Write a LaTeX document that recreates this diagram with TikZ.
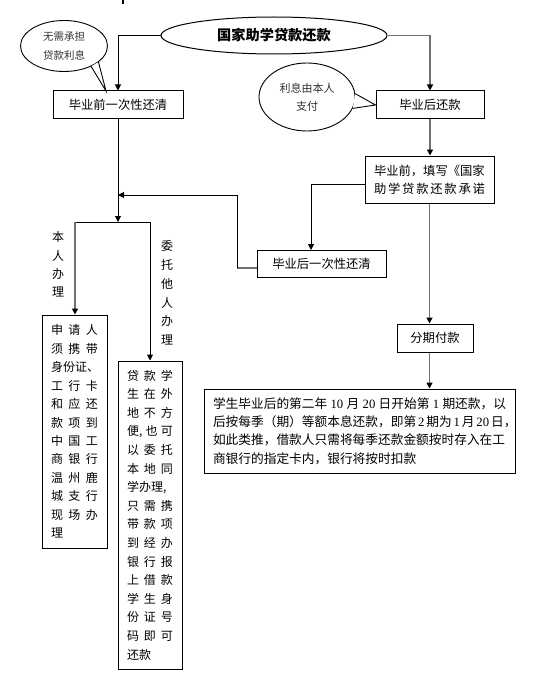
\documentclass[tikz,border=0pt]{standalone}
\usepackage{fontspec}
\setmainfont{Noto Sans CJK SC}
\newfontfamily\numf{Liberation Serif}
\usetikzlibrary{arrows.meta,shapes.geometric}
\definecolor{gline}{HTML}{707070}
\tikzset{
  box/.style={draw, line width=1pt, rectangle, inner sep=0pt, font=\fontsize{12.3}{18}\selectfont},
  arr/.style={line width=1pt, -{Triangle[length=6pt,width=6pt,color=black]}},
  garr/.style={line width=1.4pt, draw=gline, -{Triangle[length=6pt,width=6pt,color=black]}},
  bl/.style={line width=1pt},
  gl/.style={line width=1.4pt, draw=gline},
  callout/.style={draw, ellipse, line width=0.9pt, inner sep=0pt, text=black!80, align=center},
  vlabel/.style={align=center, inner sep=0pt},
  tail/.style={line width=0.9pt},
}
\begin{document}
\begin{tikzpicture}[x=1pt,y=-1pt]
\useasboundingbox (0,0) rectangle (547,690);
\fill[white] (0,0) rectangle (547,690);
\draw[line width=1.5pt] (123,0) -- (123,4);

% main ellipse
\node[draw, ellipse, line width=1pt, minimum width=226pt, minimum height=37pt, inner sep=0pt,
      font=\fontsize{14.2}{16}\selectfont\bfseries] (main) at (274,35.5) {国家助学贷款还款};

% boxes
\node[box, minimum width=130pt, minimum height=28pt] (b1) at (118,105) {毕业前一次性还清};
\node[box, minimum width=108pt, minimum height=28pt] (b2) at (430,105) {毕业后还款};
\node[box, minimum width=129pt, minimum height=47pt, align=left] (b3) at (429.5,179.5)
  {\makebox[111pt][s]{毕业前，填写《国家}\\\makebox[111pt][s]{助\hfill 学\hfill 贷\hfill 款\hfill 还\hfill 款\hfill 承\hfill 诺}};
\node[box, minimum width=129pt, minimum height=27pt] (b4) at (321.5,263.5) {毕业后一次性还清};
\node[box, minimum width=76pt, minimum height=28pt] (b5) at (435,338) {分期付款};
\node[box, minimum width=311pt, minimum height=84pt, align=left, font=\fontsize{12.7}{18.3}\selectfont] (b6) at (359.5,431)
  {\makebox[293pt][s]{学生毕业后的第二年 {\numf 10} 月 {\numf 20} 日开始第 {\numf 1} 期还款，以}\\
   \makebox[293pt][s]{后按每季（期）等额本息还款，即第 {\numf 2} 期为 {\numf 1} 月 {\numf 20} 日，}\\
   \makebox[293pt][s]{如此类推，借款人只需将每季还款金额按时存入在工}\\
   商银行的指定卡内，银行将按时扣款};

\node[box, minimum width=65pt, minimum height=233pt, align=left, font=\fontsize{12}{18.45}\selectfont] (bA) at (74.5,431.5)
  {\makebox[47pt][s]{申\hfill 请\hfill 人}\\
   \makebox[47pt][s]{须\hfill 携\hfill 带}\\
   \makebox[47pt][s]{身\hfill 份\hfill 证\hfill 、}\\
   \makebox[47pt][s]{工\hfill 行\hfill 卡}\\
   \makebox[47pt][s]{和\hfill 应\hfill 还}\\
   \makebox[47pt][s]{款\hfill 项\hfill 到}\\
   \makebox[47pt][s]{中\hfill 国\hfill 工}\\
   \makebox[47pt][s]{商\hfill 银\hfill 行}\\
   \makebox[47pt][s]{温\hfill 州\hfill 鹿}\\
   \makebox[47pt][s]{城\hfill 支\hfill 行}\\
   \makebox[47pt][s]{现\hfill 场\hfill 办}\\
   理};

\node[box, minimum width=64pt, minimum height=308pt, align=left, font=\fontsize{12}{18.6}\selectfont] (bB) at (150,515)
  {\makebox[46pt][s]{贷\hfill 款\hfill 学}\\
   \makebox[46pt][s]{生\hfill 在\hfill 外}\\
   \makebox[46pt][s]{地\hfill 不\hfill 方}\\
   \makebox[46pt][s]{便,\hfill 也\hfill 可}\\
   \makebox[46pt][s]{以\hfill 委\hfill 托}\\
   \makebox[46pt][s]{本\hfill 地\hfill 同}\\
   学办理,\\
   \makebox[46pt][s]{只\hfill 需\hfill 携}\\
   \makebox[46pt][s]{带\hfill 款\hfill 项}\\
   \makebox[46pt][s]{到\hfill 经\hfill 办}\\
   \makebox[46pt][s]{银\hfill 行\hfill 报}\\
   \makebox[46pt][s]{上\hfill 借\hfill 款}\\
   \makebox[46pt][s]{学\hfill 生\hfill 身}\\
   \makebox[46pt][s]{份\hfill 证\hfill 号}\\
   \makebox[46pt][s]{码\hfill 即\hfill 可}\\
   还款};

% vertical labels
\node[vlabel, font=\fontsize{12}{18.3}\selectfont] (l1) at (58,264.5) {本\\人\\办\\理};
\node[vlabel, font=\fontsize{12}{18.8}\selectfont] (l2) at (167,293) {委\\托\\他\\人\\办\\理};

% callouts
\coordinate (tip1) at (106,91);
\node[callout, minimum width=87pt, minimum height=51pt, font=\fontsize{10.5}{19}\selectfont] (c1) at (64,46) {无需承担\\贷款利息};
\fill[white] (c1.-37) -- (tip1) -- (c1.-25) -- cycle;
\draw[tail] (c1.-37) -- (tip1) -- (c1.-25);

\node[callout, minimum width=96pt, minimum height=68pt, font=\fontsize{11}{18}\selectfont] (c2) at (307,97) {利息由本人\\支付};
\fill[white] (c2.4) -- (b2.west) -- (c2.-14) -- cycle;
\draw[tail] (c2.4) -- (b2.west) -- (c2.-14);

% connectors
\draw[arr] (main.west) -| (b1.north);
\draw[garr] (main.east) -| (b2.north);

\coordinate (bar) at (118,222);
\coordinate (barL) at (75,222);
\coordinate (barR) at (150,222);
\draw[arr] (b1.south) -- (bar);
\draw[bl] (barL) -- (barR);
\draw[garr] (barL) -- (barL |- bA.north);
\draw[arr] (barR) -- (barR |- bB.north);

\draw[garr] (b2.south) -- (b2.south |- b3.north);
\coordinate (k1) at (365,184);
\coordinate (k2) at (311,250);
\draw[arr] (k1) -| (k2);
\coordinate (k3) at (257,268);
\coordinate (k5) at (237,268);
\coordinate (k4) at (118,195);
\draw[gl] (k3) -- (k5);
\draw[arr] (k5) |- (k4);

\draw[garr] (b3.south) -- (b3.south |- b5.north);
\draw[garr] (b3.south |- b5.south) -- (b3.south |- b6.north);
\end{tikzpicture}
\end{document}
